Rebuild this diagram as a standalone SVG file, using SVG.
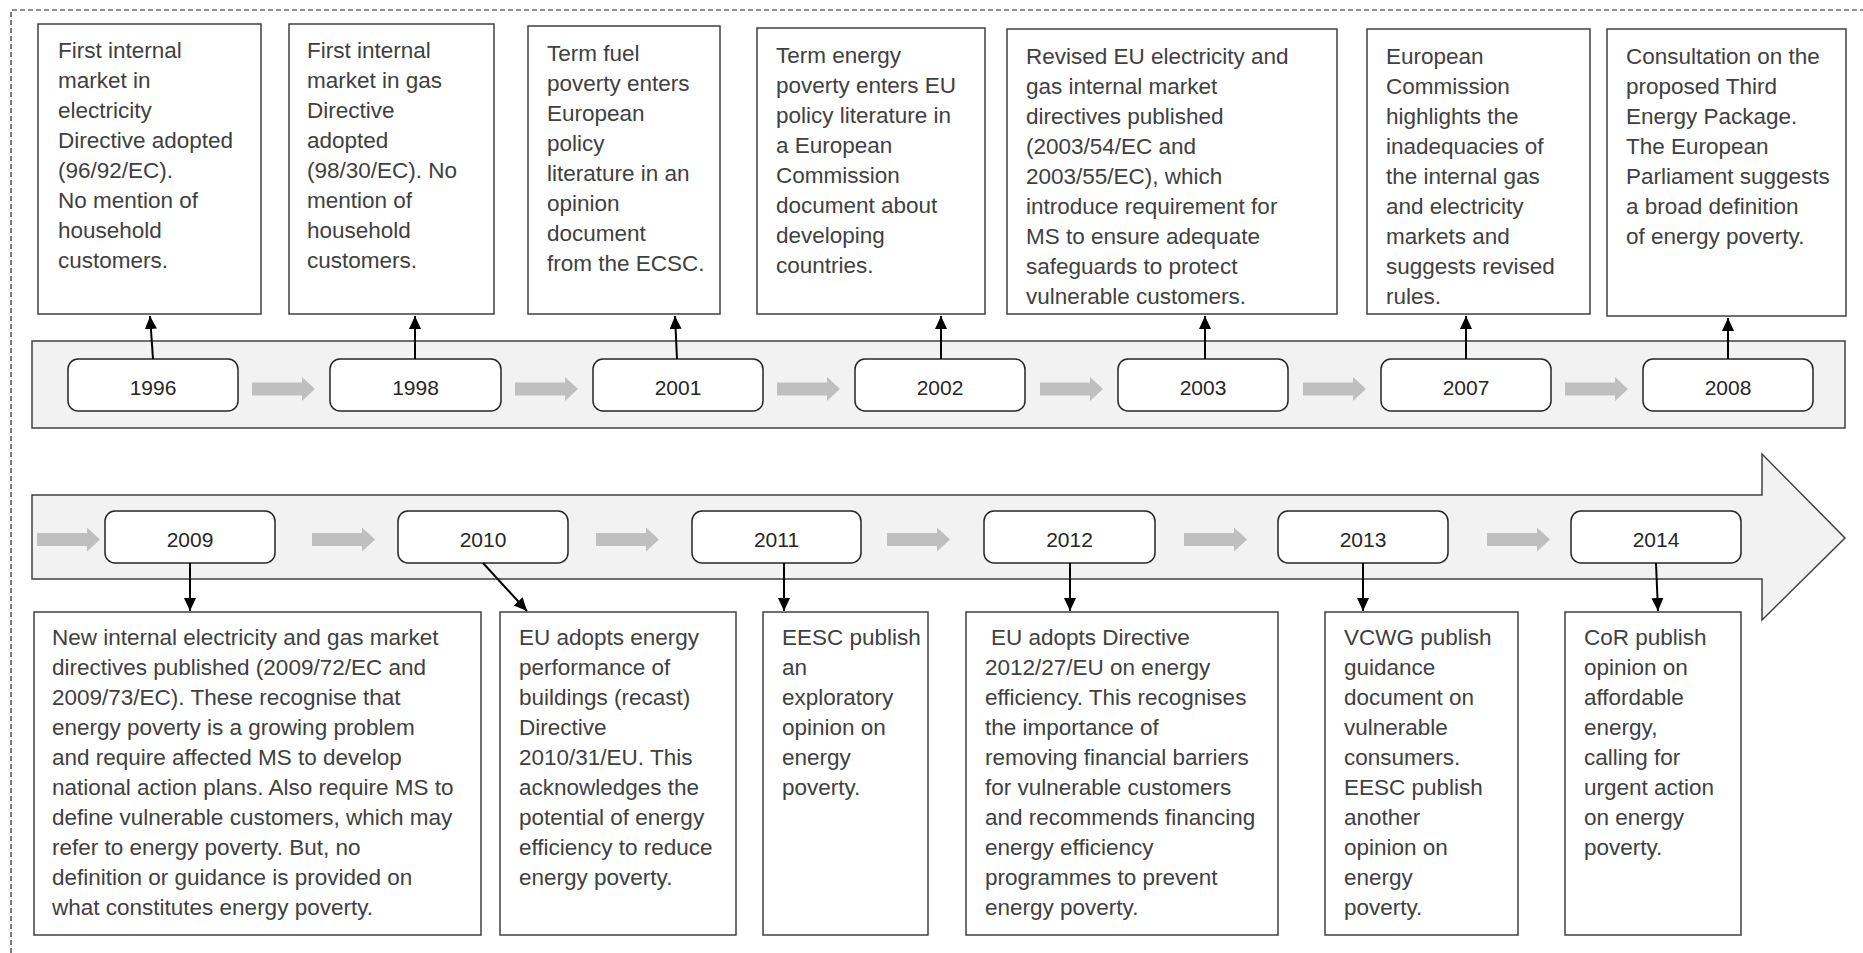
<svg xmlns="http://www.w3.org/2000/svg" width="1863" height="953" viewBox="0 0 1863 953">
<style>
.band{fill:#f2f2f2;stroke:#404040;stroke-width:1.5}
.box{fill:#fff;stroke:#404040;stroke-width:1.5}
.yr{fill:#fff;stroke:#262626;stroke-width:1.5}
.t{font-family:"Liberation Sans",Arial,sans-serif;font-size:22.5px;fill:#404040}
.yt{font-family:"Liberation Sans",Arial,sans-serif;font-size:21px;fill:#262626;text-anchor:middle}
.gar{fill:#bfbfbf}
.con{stroke:#000;stroke-width:2;fill:none;marker-end:url(#ah)}
</style>
<defs>
<marker id="ah" markerUnits="userSpaceOnUse" markerWidth="14" markerHeight="14" viewBox="0 0 14 14" refX="13" refY="7" orient="auto">
<path d="M0,1 L13,7 L0,13 Z" fill="#000"/>
</marker>
<path id="ga" d="M0,-6.5 H50 V-12 L63,0 L50,12 V6.5 H0 Z"/>
</defs>
<rect width="1863" height="953" fill="#fff"/>
<path d="M11,953 V10 H1863" fill="none" stroke="#222" stroke-width="1.2" stroke-dasharray="5,3"/>

<g id="timeline-bands">
<rect class="band" x="32" y="341" width="1813" height="87"/>
<polygon class="band" points="32,495 1762,495 1762,454 1845,538 1762,620 1762,579 32,579"/>
</g>

<g id="flow-arrows" class="gar">
<use href="#ga" x="252" y="389"/>
<use href="#ga" x="515" y="389"/>
<use href="#ga" x="777" y="389"/>
<use href="#ga" x="1040" y="389"/>
<use href="#ga" x="1303" y="389"/>
<use href="#ga" x="1565" y="389"/>
<use href="#ga" x="37" y="539.5"/>
<use href="#ga" x="312" y="539.5"/>
<use href="#ga" x="596" y="539.5"/>
<use href="#ga" x="887" y="539.5"/>
<use href="#ga" x="1184" y="539.5"/>
<use href="#ga" x="1487" y="539.5"/>
</g>

<g id="y1996"><rect class="yr" x="68" y="359" width="170" height="52" rx="10"/><text class="yt" x="153" y="395">1996</text></g>
<g id="y1998"><rect class="yr" x="330" y="359" width="171" height="52" rx="10"/><text class="yt" x="415.5" y="395">1998</text></g>
<g id="y2001"><rect class="yr" x="593" y="359" width="170" height="52" rx="10"/><text class="yt" x="678" y="395">2001</text></g>
<g id="y2002"><rect class="yr" x="855" y="359" width="170" height="52" rx="10"/><text class="yt" x="940" y="395">2002</text></g>
<g id="y2003"><rect class="yr" x="1118" y="359" width="170" height="52" rx="10"/><text class="yt" x="1203" y="395">2003</text></g>
<g id="y2007"><rect class="yr" x="1381" y="359" width="170" height="52" rx="10"/><text class="yt" x="1466" y="395">2007</text></g>
<g id="y2008"><rect class="yr" x="1643" y="359" width="170" height="52" rx="10"/><text class="yt" x="1728" y="395">2008</text></g>

<g id="y2009"><rect class="yr" x="105" y="511" width="170" height="52" rx="10"/><text class="yt" x="190" y="547">2009</text></g>
<g id="y2010"><rect class="yr" x="398" y="511" width="170" height="52" rx="10"/><text class="yt" x="483" y="547">2010</text></g>
<g id="y2011"><rect class="yr" x="692" y="511" width="169" height="52" rx="10"/><text class="yt" x="776.5" y="547">2011</text></g>
<g id="y2012"><rect class="yr" x="984" y="511" width="171" height="52" rx="10"/><text class="yt" x="1069.5" y="547">2012</text></g>
<g id="y2013"><rect class="yr" x="1278" y="511" width="170" height="52" rx="10"/><text class="yt" x="1363" y="547">2013</text></g>
<g id="y2014"><rect class="yr" x="1571" y="511" width="170" height="52" rx="10"/><text class="yt" x="1656" y="547">2014</text></g>

<g id="e1996"><rect class="box" x="38" y="24" width="223" height="290"/>
<text class="t" y="58"><tspan x="58">First internal</tspan><tspan x="58" dy="30">market in</tspan><tspan x="58" dy="30">electricity</tspan><tspan x="58" dy="30">Directive adopted</tspan><tspan x="58" dy="30">(96/92/EC).</tspan><tspan x="58" dy="30">No mention of</tspan><tspan x="58" dy="30">household</tspan><tspan x="58" dy="30">customers.</tspan></text></g>

<g id="e1998"><rect class="box" x="289" y="24" width="205" height="290"/>
<text class="t" y="58"><tspan x="307">First internal</tspan><tspan x="307" dy="30">market in gas</tspan><tspan x="307" dy="30">Directive</tspan><tspan x="307" dy="30">adopted</tspan><tspan x="307" dy="30">(98/30/EC). No</tspan><tspan x="307" dy="30">mention of</tspan><tspan x="307" dy="30">household</tspan><tspan x="307" dy="30">customers.</tspan></text></g>

<g id="e2001"><rect class="box" x="528" y="26" width="192" height="288"/>
<text class="t" y="61"><tspan x="547">Term fuel</tspan><tspan x="547" dy="30">poverty enters</tspan><tspan x="547" dy="30">European</tspan><tspan x="547" dy="30">policy</tspan><tspan x="547" dy="30">literature in an</tspan><tspan x="547" dy="30">opinion</tspan><tspan x="547" dy="30">document</tspan><tspan x="547" dy="30">from the ECSC.</tspan></text></g>

<g id="e2002"><rect class="box" x="757" y="28" width="228" height="286"/>
<text class="t" y="63"><tspan x="776">Term energy</tspan><tspan x="776" dy="30">poverty enters EU</tspan><tspan x="776" dy="30">policy literature in</tspan><tspan x="776" dy="30">a European</tspan><tspan x="776" dy="30">Commission</tspan><tspan x="776" dy="30">document about</tspan><tspan x="776" dy="30">developing</tspan><tspan x="776" dy="30">countries.</tspan></text></g>

<g id="e2003"><rect class="box" x="1007" y="29" width="330" height="285"/>
<text class="t" y="64"><tspan x="1026">Revised EU electricity and</tspan><tspan x="1026" dy="30">gas internal market</tspan><tspan x="1026" dy="30">directives published</tspan><tspan x="1026" dy="30">(2003/54/EC and</tspan><tspan x="1026" dy="30">2003/55/EC), which</tspan><tspan x="1026" dy="30">introduce requirement for</tspan><tspan x="1026" dy="30">MS to ensure adequate</tspan><tspan x="1026" dy="30">safeguards to protect</tspan><tspan x="1026" dy="30">vulnerable customers.</tspan></text></g>

<g id="e2007"><rect class="box" x="1367" y="29" width="223" height="285"/>
<text class="t" y="64"><tspan x="1386">European</tspan><tspan x="1386" dy="30">Commission</tspan><tspan x="1386" dy="30">highlights the</tspan><tspan x="1386" dy="30">inadequacies of</tspan><tspan x="1386" dy="30">the internal gas</tspan><tspan x="1386" dy="30">and electricity</tspan><tspan x="1386" dy="30">markets and</tspan><tspan x="1386" dy="30">suggests revised</tspan><tspan x="1386" dy="30">rules.</tspan></text></g>

<g id="e2008"><rect class="box" x="1607" y="29" width="239" height="287"/>
<text class="t" y="64"><tspan x="1626">Consultation on the</tspan><tspan x="1626" dy="30">proposed Third</tspan><tspan x="1626" dy="30">Energy Package.</tspan><tspan x="1626" dy="30">The European</tspan><tspan x="1626" dy="30">Parliament suggests</tspan><tspan x="1626" dy="30">a broad definition</tspan><tspan x="1626" dy="30">of energy poverty.</tspan></text></g>

<g id="e2009"><rect class="box" x="34" y="612" width="447" height="323"/>
<text class="t" y="645"><tspan x="52">New internal electricity and gas market</tspan><tspan x="52" dy="30">directives published (2009/72/EC and</tspan><tspan x="52" dy="30">2009/73/EC). These recognise that</tspan><tspan x="52" dy="30">energy poverty is a growing problem</tspan><tspan x="52" dy="30">and require affected MS to develop</tspan><tspan x="52" dy="30">national action plans. Also require MS to</tspan><tspan x="52" dy="30">define vulnerable customers, which may</tspan><tspan x="52" dy="30">refer to energy poverty. But, no</tspan><tspan x="52" dy="30">definition or guidance is provided on</tspan><tspan x="52" dy="30">what constitutes energy poverty.</tspan></text></g>

<g id="e2010"><rect class="box" x="500" y="612" width="236" height="323"/>
<text class="t" y="645"><tspan x="519">EU adopts energy</tspan><tspan x="519" dy="30">performance of</tspan><tspan x="519" dy="30">buildings (recast)</tspan><tspan x="519" dy="30">Directive</tspan><tspan x="519" dy="30">2010/31/EU. This</tspan><tspan x="519" dy="30">acknowledges the</tspan><tspan x="519" dy="30">potential of energy</tspan><tspan x="519" dy="30">efficiency to reduce</tspan><tspan x="519" dy="30">energy poverty.</tspan></text></g>

<g id="e2011"><rect class="box" x="763" y="612" width="165" height="323"/>
<text class="t" y="645"><tspan x="782">EESC publish</tspan><tspan x="782" dy="30">an</tspan><tspan x="782" dy="30">exploratory</tspan><tspan x="782" dy="30">opinion on</tspan><tspan x="782" dy="30">energy</tspan><tspan x="782" dy="30">poverty.</tspan></text></g>

<g id="e2012"><rect class="box" x="966" y="612" width="312" height="323"/>
<text class="t" y="645"><tspan x="991">EU adopts Directive</tspan><tspan x="985" dy="30">2012/27/EU on energy</tspan><tspan x="985" dy="30">efficiency. This recognises</tspan><tspan x="985" dy="30">the importance of</tspan><tspan x="985" dy="30">removing financial barriers</tspan><tspan x="985" dy="30">for vulnerable customers</tspan><tspan x="985" dy="30">and recommends financing</tspan><tspan x="985" dy="30">energy efficiency</tspan><tspan x="985" dy="30">programmes to prevent</tspan><tspan x="985" dy="30">energy poverty.</tspan></text></g>

<g id="e2013"><rect class="box" x="1325" y="612" width="193" height="323"/>
<text class="t" y="645"><tspan x="1344">VCWG publish</tspan><tspan x="1344" dy="30">guidance</tspan><tspan x="1344" dy="30">document on</tspan><tspan x="1344" dy="30">vulnerable</tspan><tspan x="1344" dy="30">consumers.</tspan><tspan x="1344" dy="30">EESC publish</tspan><tspan x="1344" dy="30">another</tspan><tspan x="1344" dy="30">opinion on</tspan><tspan x="1344" dy="30">energy</tspan><tspan x="1344" dy="30">poverty.</tspan></text></g>

<g id="e2014"><rect class="box" x="1565" y="612" width="176" height="323"/>
<text class="t" y="645"><tspan x="1584">CoR publish</tspan><tspan x="1584" dy="30">opinion on</tspan><tspan x="1584" dy="30">affordable</tspan><tspan x="1584" dy="30">energy,</tspan><tspan x="1584" dy="30">calling for</tspan><tspan x="1584" dy="30">urgent action</tspan><tspan x="1584" dy="30">on energy</tspan><tspan x="1584" dy="30">poverty.</tspan></text></g>

<g id="connectors">
<line class="con" x1="153" y1="359" x2="150" y2="316"/>
<line class="con" x1="415" y1="359" x2="415" y2="316"/>
<line class="con" x1="677" y1="359" x2="675" y2="316"/>
<line class="con" x1="941" y1="359" x2="941" y2="316"/>
<line class="con" x1="1205" y1="359" x2="1205" y2="316"/>
<line class="con" x1="1466" y1="359" x2="1466" y2="316"/>
<line class="con" x1="1728" y1="359" x2="1728" y2="318"/>
<line class="con" x1="190" y1="563" x2="190" y2="611"/>
<line class="con" x1="483" y1="563" x2="527" y2="611"/>
<line class="con" x1="784" y1="563" x2="784" y2="611"/>
<line class="con" x1="1070" y1="563" x2="1070" y2="611"/>
<line class="con" x1="1363" y1="563" x2="1363" y2="611"/>
<line class="con" x1="1656" y1="563" x2="1658" y2="611"/>
</g>
</svg>
